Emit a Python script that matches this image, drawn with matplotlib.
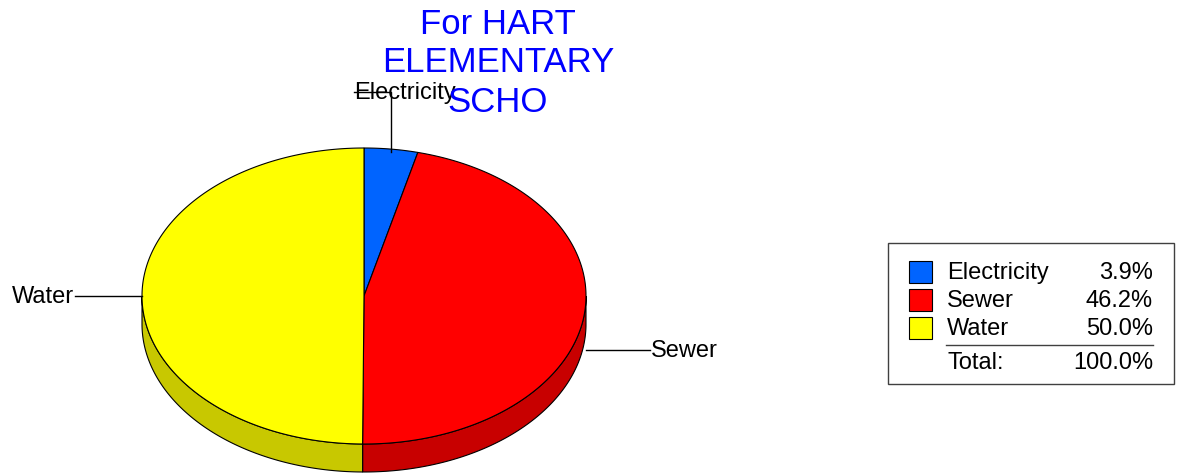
import numpy as np
import matplotlib.pyplot as plt
from matplotlib.patches import Polygon, Rectangle

labels = ["Electricity", "Sewer", "Water"]
values = [3.9, 46.2, 50.0]
total_shown = 100.0
top_colors = ["#0064FF", "#FF0000", "#FFFF00"]
side_colors = ["#0050CC", "#C80000", "#C8C800"]
title_lines = ["For HART", "ELEMENTARY", "SCHO"]

plt.rcParams['font.family'] = ['Liberation Sans', 'DejaVu Sans']

fig = plt.figure(figsize=(11.89, 4.73), dpi=100)
ax = fig.add_axes([0, 0, 1, 1])
ax.set_xlim(0, 1189)
ax.set_ylim(473, 0)
ax.axis('off')

# ellipse geometry in pixels
cx, cy, rx, ry, depth = 364, 296, 222, 148, 28


def pt(t, dy=0):
    r = np.radians(t)
    return cx + rx * np.cos(r), cy - ry * np.sin(r) + dy


starts, ends = [], []
a = 90.0
for v in values:
    starts.append(a)
    a = max(a - 360.0 * v / total_shown, -270.0)
    ends.append(a)

# side walls (only the front half)
for s, e, c in zip(starts, ends, side_colors):
    for lo, hi in [(max(e, -180), min(s, 0)), (max(e + 360, -180), min(s + 360, 0))]:
        if hi <= lo:
            continue
        ts = np.linspace(hi, lo, 200)
        top = [pt(t) for t in ts]
        bot = [pt(t, depth) for t in ts[::-1]]
        ax.add_patch(Polygon(top + bot, closed=True, facecolor=c,
                             edgecolor='black', linewidth=0.8, zorder=1))

# top faces
for s, e, c in zip(starts, ends, top_colors):
    ts = np.linspace(s, e, 300)
    poly = [(cx, cy)] + [pt(t) for t in ts]
    ax.add_patch(Polygon(poly, closed=True, facecolor=c,
                         edgecolor='black', linewidth=0.8, zorder=2))

# leader lines and labels
mids = [(s + e) / 2 for s, e in zip(starts, ends)]
fs = 17
x0, y0 = pt(mids[0])
ax.plot([x0, x0, 354], [y0 + 3, 92, 92], color='black', lw=1, zorder=3)
ax.text(354, 93, labels[0], fontsize=fs, ha='left', va='center', zorder=4)
x1, y1 = pt(mids[1])
ax.plot([x1 + 2, 650], [350, 350], color='black', lw=1, zorder=3)
ax.text(651, 351, labels[1], fontsize=fs, ha='left', va='center')
x2, y2 = pt(mids[2])
ax.plot([x2, 75], [y2, y2], color='black', lw=1, zorder=3)
ax.text(74, y2 + 1, labels[2], fontsize=fs, ha='right', va='center')

# title
for i, line in enumerate(title_lines):
    ax.text(498, 24 + 39 * i, line, fontsize=25, color='#0000FF',
            ha='center', va='center', zorder=5)

# legend
ax.add_patch(Rectangle((888, 243), 286, 141, facecolor='white',
                       edgecolor='#404040', linewidth=1))
for i, (lab, v, c) in enumerate(zip(labels, values, top_colors)):
    yy = 272 + 28 * i
    ax.add_patch(Rectangle((909, yy - 11), 23, 22, facecolor=c,
                           edgecolor='black', linewidth=0.8))
    ax.text(947, yy + 1, lab, fontsize=fs, ha='left', va='center')
    ax.text(1153, yy + 1, f"{v:.1f}%", fontsize=fs, ha='right', va='center')
ax.plot([946, 1153], [345, 345], color='#404040', lw=1)
ax.text(947, 363, "Total:", fontsize=fs, ha='left', va='center')
ax.text(1153, 363, f"{total_shown:.1f}%", fontsize=fs, ha='right', va='center')

fig.savefig("out.png", dpi=100)
